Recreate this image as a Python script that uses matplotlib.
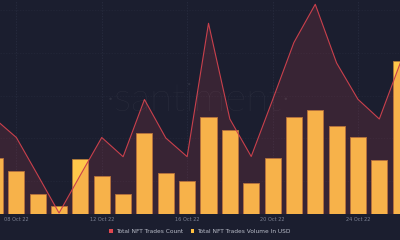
import matplotlib
matplotlib.use("Agg")
import matplotlib.pyplot as plt
from matplotlib.patches import Patch
import numpy as np

dates = ["07 Oct 22", "08 Oct 22", "09 Oct 22", "10 Oct 22", "11 Oct 22", "12 Oct 22",
         "13 Oct 22", "14 Oct 22", "15 Oct 22", "16 Oct 22", "17 Oct 22", "18 Oct 22",
         "19 Oct 22", "20 Oct 22", "21 Oct 22", "22 Oct 22", "23 Oct 22", "24 Oct 22",
         "25 Oct 22", "26 Oct 22"]
trades_count = [950, 765, 390, 10, 390, 765, 573, 1145, 760, 573, 1907, 950,
                575, 1140, 1715, 2097, 1510, 1147, 950, 1520]
volume_usd_m = [5.57, 4.33, 2.03, 0.77, 5.50, 3.83, 1.97, 8.13, 4.10, 3.27, 9.73, 8.37,
                3.10, 5.60, 9.67, 10.40, 8.80, 7.67, 5.40, 15.33]
tick_labels = ["08 Oct 22", "12 Oct 22", "16 Oct 22", "20 Oct 22", "24 Oct 22"]

bg = "#1b1e2f"
fig = plt.figure(figsize=(4, 2.4), dpi=100, facecolor=bg)
ax = fig.add_axes([0, 26 / 240, 1, 214 / 240])
ax.set_facecolor(bg)
x = np.arange(len(dates))

ax.bar(x, volume_usd_m, width=0.75, color="#ffc84a", edgecolor="#b07a3a",
       linewidth=0.6, zorder=2)
ax.set_ylim(0, 21.4)
ax.set_xlim(0.234, 0.234 + 400 / 21.35)

ax2 = ax.twinx()
ax2.set_ylim(0, 2140)
ax2.fill_between(x, trades_count, 0, color="#d2444f", alpha=0.16, linewidth=0, zorder=3)
ax2.plot(x, trades_count, color="#c9404c", linewidth=0.8, zorder=4)
ax2.set_xlim(ax.get_xlim())

# grid
for xi, lab in enumerate(dates):
    if lab in tick_labels:
        ax.axvline(xi, color="#2a2e42", linewidth=0.5, linestyle=(0, (2, 2)), zorder=0)
for yv in np.linspace(0, 21.4, 6)[1:]:
    ax.axhline(yv - 1.0, color="#24283a", linewidth=0.5, linestyle=(0, (2, 2)), zorder=0)

for a in (ax, ax2):
    for s in a.spines.values():
        s.set_visible(False)
    a.set_yticks([])
ax.set_xticks([dates.index(t) for t in tick_labels])
ax.set_xticklabels(tick_labels, fontsize=3.6, color="#7d8294")
ax.tick_params(axis="x", length=0, pad=2)
ax2.tick_params(axis="x", length=0)

fig.text(0.495, 0.585, "\u00b7santiment\u00b7", fontsize=29, color="#ffffff", alpha=0.08,
         ha="center", va="center", family="Lato", fontweight="light")

handles = [Patch(facecolor="#e0474f", edgecolor="none", label="Total NFT Trades Count"),
           Patch(facecolor="#ffc040", edgecolor="none", label="Total NFT Trades Volume In USD")]
leg = fig.legend(handles=handles, loc="center", bbox_to_anchor=(0.5, 0.036), ncol=2,
                 frameon=False, fontsize=4.2, labelcolor="#b9bdc9", handlelength=0.6,
                 handleheight=0.6, handletextpad=0.5, columnspacing=1.4)

fig.savefig("out.png", dpi=100, facecolor=bg)
